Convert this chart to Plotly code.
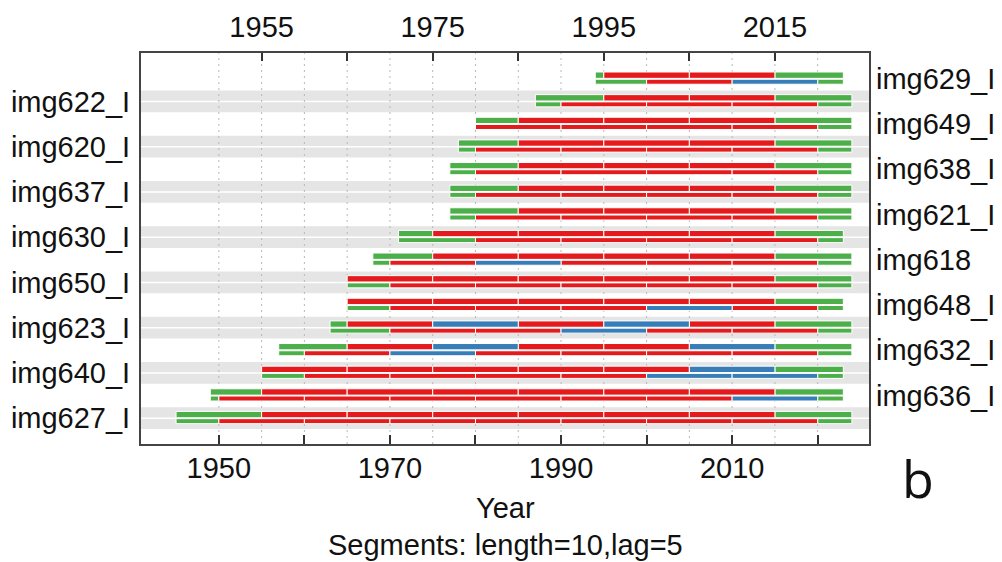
import plotly.graph_objects as go

# Series listed bottom-to-top (position 1 = bottom of the panel)
series_names = [
    "img627_I", "img636_I", "img640_I", "img632_I", "img623_I", "img648_I",
    "img650_I", "img618", "img630_I", "img621_I", "img637_I", "img638_I",
    "img620_I", "img649_I", "img622_I", "img629_I",
]
first_year = [1945, 1949, 1955, 1957, 1963, 1965, 1965, 1968,
              1971, 1977, 1977, 1977, 1978, 1980, 1987, 1994]
last_year = [2023, 2022, 2022, 2023, 2023, 2022, 2023, 2023,
             2022, 2023, 2023, 2023, 2023, 2023, 2023, 2022]

# Segment flags per series, in time order (G = incomplete, R = significant, B = not significant)
# upper row: windows starting 1945, 1955, ... ; lower row: windows starting 1950, 1960, ...
upper_flags = [
    "GRRRRRRG", "GRRRRRRG", "RRRRRBG", "GRBRRBG", "GRBRBRG", "RRRRRG",
    "RRRRRG", "GRRRRG", "GRRRRG", "GRRRG", "GRRRG", "GRRRG",
    "GRRRG", "GRRRG", "GRRG", "GRRG",
]
lower_flags = [
    "GRRRRRRRG", "GRRRRRRBG", "GRRRRBBG", "GRBRRRRG", "GRRBRRG", "GRRRBRG",
    "GRRRRRG", "GRBRRRG", "GRRRRG", "GRRRRG", "GRRRRG", "GRRRRG",
    "GRRRRG", "RRRRG", "GRRRG", "GRBG",
]

seg_length = 10
seg_lag = 5
upper_starts = list(range(1945, 2030, seg_length))
lower_starts = list(range(1950, 2030, seg_length))

bottom_tick_years = list(range(1950, 2021, 10))
bottom_tick_text = ["1950", "", "1970", "", "1990", "", "2010", ""]
top_tick_years = list(range(1955, 2016, 10))
top_tick_text = ["1955", "", "1975", "", "1995", "", "2015"]
grid_years = list(range(1950, 2021, 5))

x_range = [1940.9, 2026.0]
n = len(series_names)
y_range = [0.5 - 0.04 * n, n + 0.5 + 0.04 * n]

palette = {"R": "#E41A1C", "B": "#377EB8", "G": "#4DAF4A"}
font_family = "Liberation Sans, Arial, sans-serif"


def pieces(first, last, edges):
    cuts = [first] + [e for e in edges if first < e < last + 1] + [last + 1]
    return list(zip(cuts[:-1], cuts[1:]))


# Row geometry (in series units around each series' centre)
upper_lo, upper_hi = 0.02, 0.30
lower_lo, lower_hi = -0.24, -0.02

bars = {k: {"y": [], "x": [], "base": [], "w": []} for k in palette}
for i in range(n):
    pos = i + 1
    for flags, edges, lo, hi in (
        (upper_flags[i], upper_starts, upper_lo, upper_hi),
        (lower_flags[i], lower_starts, lower_lo, lower_hi),
    ):
        segs = pieces(first_year[i], last_year[i], edges)
        assert len(segs) == len(flags), (series_names[i], segs, flags)
        for (a, b), f in zip(segs, flags):
            bars[f]["y"].append(pos + (lo + hi) / 2)
            bars[f]["x"].append(b - a)
            bars[f]["base"].append(a)
            bars[f]["w"].append(hi - lo)

fig = go.Figure()
for key in ("G", "R", "B"):
    d = bars[key]
    fig.add_trace(go.Bar(
        orientation="h", y=d["y"], x=d["x"], base=d["base"], width=d["w"],
        marker=dict(color=palette[key], line=dict(color="white", width=1)),
        showlegend=False, hoverinfo="skip",
    ))
# anchor trace for the secondary (top/right) axes
fig.add_trace(go.Scatter(x=[None], y=[None], xaxis="x2", yaxis="y2",
                         showlegend=False, hoverinfo="skip"))

shapes = []
# shaded bands behind every other series, split at the series centre
for pos in range(1, n + 1, 2):
    for y0, y1 in ((pos - 0.48, pos - 0.035), (pos + 0.035, pos + 0.48)):
        shapes.append(dict(type="rect", xref="paper", yref="y", x0=0, x1=1,
                           y0=y0, y1=y1, fillcolor="#E5E5E5",
                           line=dict(width=0), layer="below"))
# dotted year guides
for yr in grid_years:
    shapes.append(dict(type="line", xref="x", yref="paper", x0=yr, x1=yr,
                       y0=0, y1=1, line=dict(color="#B8B8B8", width=1, dash="2px,4px"),
                       layer="below"))

tick_font = dict(family=font_family, size=29, color="#111")

fig.update_layout(
    width=1002, height=562,
    margin=dict(l=141, r=133, t=53, b=118),
    paper_bgcolor="white", plot_bgcolor="white",
    barmode="overlay",
    shapes=shapes,
    xaxis=dict(range=x_range, tickvals=bottom_tick_years, ticktext=bottom_tick_text,
               ticks="inside", ticklen=9, tickwidth=2, tickcolor="#333",
               showgrid=False, zeroline=False, showline=True, linewidth=2,
               linecolor="#444", mirror=True, tickfont=tick_font,
               ticklabelstandoff=-3, automargin=False),
    xaxis2=dict(range=x_range, overlaying="x", side="top", anchor="y",
                tickvals=top_tick_years, ticktext=top_tick_text,
                ticks="inside", ticklen=8, tickwidth=2, tickcolor="#333",
                showgrid=False, zeroline=False, showline=False,
                tickfont=tick_font, ticklabelstandoff=9, automargin=False),
    yaxis=dict(range=y_range, tickvals=list(range(1, n + 1, 2)),
               ticktext=[series_names[p - 1] for p in range(1, n + 1, 2)],
               ticks="", showgrid=False, zeroline=False, showline=True,
               linewidth=2, linecolor="#444", mirror=True, tickfont=tick_font,
               ticklabelstandoff=3, automargin=False),
    yaxis2=dict(range=y_range, overlaying="y", side="right", anchor="x",
                tickvals=list(range(2, n + 1, 2)),
                ticktext=[series_names[p - 1] for p in range(2, n + 1, 2)],
                ticks="", showgrid=False, zeroline=False, showline=False,
                tickfont=tick_font, ticklabelstandoff=6, automargin=False),
    annotations=[
        dict(text="Year", xref="paper", yref="paper", x=0.5, y=0,
             yanchor="middle", yshift=-64, showarrow=False,
             font=dict(family=font_family, size=29, color="#111")),
        dict(text=f"Segments: length={seg_length},lag={seg_lag}", xref="paper",
             yref="paper", x=0.5, y=0, yanchor="middle", yshift=-101,
             showarrow=False, font=dict(family=font_family, size=29, color="#111")),
        dict(text="b", xref="paper", yref="paper", x=1.067, y=0,
             xanchor="center", yanchor="middle", yshift=-33, showarrow=False,
             font=dict(family="Open Sans, sans-serif", size=52, color="#111")),
    ],
)

fig.write_html("out.html")
